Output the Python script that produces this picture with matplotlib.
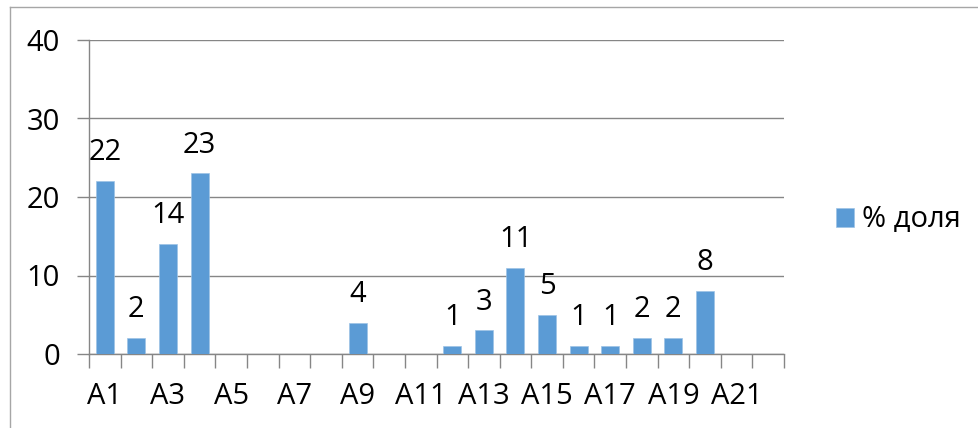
import matplotlib
matplotlib.use("Agg")
import matplotlib.pyplot as plt
from matplotlib.lines import Line2D
import numpy as np

# категории A1..A22, подписи по оси через одну
categories = ["A%d" % i for i in range(1, 23)]
share = [22, 2, 14, 23, 0, 0, 0, 0, 4, 0, 0, 1, 3, 11, 5, 1, 1, 2, 2, 8, 0, 0]
series_name = "% доля"
y_ticks = [0, 10, 20, 30, 40]

bar_color = "#5b9bd5"
grid_color = "#868686"
font_size = 21

plt.rcParams["font.family"] = ["Open Sans", "DejaVu Sans"]

dpi = 100
fig = plt.figure(figsize=(979 / dpi, 428 / dpi), dpi=dpi)
ax = fig.add_axes([89 / 979, 1 - 354 / 428, (784 - 89) / 979, (354 - 40) / 428])

x = np.arange(len(categories))
bars = ax.bar(x, share, width=0.57, color=bar_color, edgecolor="#9dc3e6", linewidth=0.5,
              label=series_name, zorder=3)

for xi, v in zip(x, share):
  if v > 0:
    ax.annotate(str(v), (xi, v), xytext=(0, 15), textcoords="offset points",
                ha="center", va="baseline", fontsize=font_size, color="black")

ax.set_xlim(-0.5, len(categories) - 0.5)
ax.set_ylim(0, 40)
ax.set_yticks(y_ticks)
ax.set_yticklabels([str(t) for t in y_ticks], fontsize=font_size)
ax.yaxis.grid(True, color=grid_color, linewidth=1)
ax.set_axisbelow(True)

ax.set_xticks(x[::2])
ax.set_xticklabels(categories[::2], fontsize=font_size)
ax.set_xticks(np.arange(-0.5, len(categories)), minor=True)
ax.tick_params(axis="x", which="major", length=0, pad=20)
ax.tick_params(axis="x", which="minor", length=10, color=grid_color, width=1)
ax.tick_params(axis="y", length=9, color=grid_color, width=1, pad=12)

for s in ("top", "right"):
  ax.spines[s].set_visible(False)
for s in ("left", "bottom"):
  ax.spines[s].set_color(grid_color)
  ax.spines[s].set_linewidth(1)

ax.legend(loc="center left", bbox_to_anchor=(836 / 979, 1 - 220 / 428), bbox_transform=fig.transFigure,
          frameon=False, fontsize=font_size, handlelength=0.62, handleheight=0.62,
          handletextpad=0.28, borderpad=0, borderaxespad=0)

# рамка области диаграммы
fig.add_artist(Line2D([10 / 979, 10 / 979], [0, 1 - 7 / 428], transform=fig.transFigure,
                      color="#a6a6a6", linewidth=1))
fig.add_artist(Line2D([10 / 979, 1], [1 - 7 / 428, 1 - 7 / 428], transform=fig.transFigure,
                      color="#a6a6a6", linewidth=1))

fig.savefig("out.png", dpi=dpi)
